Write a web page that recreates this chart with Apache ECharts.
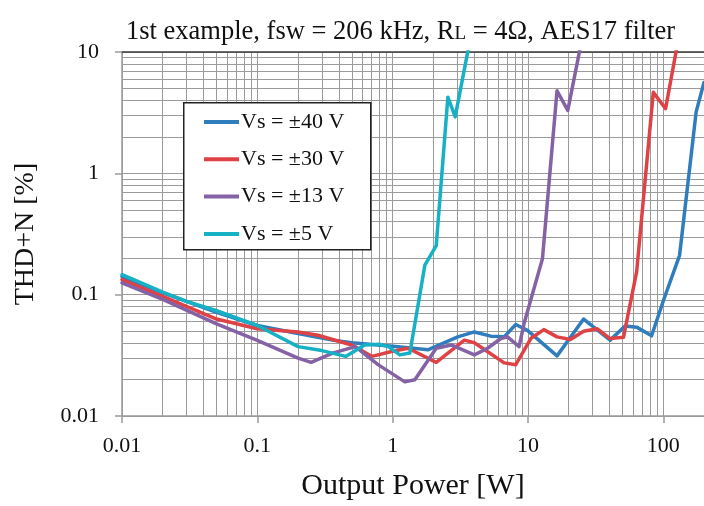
<!DOCTYPE html>
<html>
<head>
<meta charset="utf-8">
<script src="https://cdn.jsdelivr.net/npm/echarts@6/dist/echarts.min.js"></script>
<style>html,body{margin:0;padding:0;background:#fff;}#c{width:704px;height:506px;}</style>
</head>
<body>
<div id="c"></div>
<script>
// Data (Output Power [W], THD+N [%])
const seriesNames = ['Vs = \u00b140 V', 'Vs = \u00b130 V', 'Vs = \u00b113 V', 'Vs = \u00b15 V'];
const blue40 = [[0.01,0.141],[0.02,0.1035],[0.03,0.088],[0.05,0.0714],[0.1,0.0557],[0.2,0.0478],[0.36,0.0422],[0.5,0.0402],[0.78,0.0385],[1.1,0.0373],[1.82,0.0351],[3.03,0.0449],[4.02,0.0493],[5.32,0.0455],[6.67,0.0449],[8.13,0.0568],[9.91,0.0508],[16.4,0.0313],[25.8,0.063],[40.5,0.0422],[52.2,0.0551],[63.6,0.054],[82,0.0458],[100,0.0887],[132,0.211],[175,3.21],[200,5.6]];
const red30 = [[0.01,0.133],[0.02,0.097],[0.05,0.063],[0.1,0.0524],[0.2,0.0493],[0.28,0.0463],[0.5,0.0385],[0.7,0.031],[0.78,0.0319],[0.98,0.034],[1.3,0.0362],[2.1,0.0277],[3.39,0.0422],[4.02,0.0402],[6.67,0.0274],[8.13,0.0265],[10.5,0.0435],[13.1,0.0515],[16.4,0.0449],[20.6,0.0427],[25.8,0.0499],[32.4,0.0524],[40.5,0.0435],[50.8,0.0445],[63.6,0.155],[84.4,4.65],[104,3.41],[128,12]];
const purple13 = [[0.01,0.125],[0.02,0.0915],[0.05,0.0575],[0.1,0.042],[0.2,0.030],[0.25,0.0277],[0.36,0.033],[0.53,0.0373],[0.78,0.0265],[1.23,0.0191],[1.46,0.0199],[2.1,0.0362],[2.71,0.0385],[4.02,0.0319],[5.03,0.0362],[6.31,0.0435],[7.06,0.0449],[8.6,0.0373],[9.35,0.0575],[12.8,0.198],[16.4,4.79],[19.7,3.30],[24.4,11]];
const cyan5 = [[0.01,0.146],[0.02,0.105],[0.03,0.088],[0.05,0.0737],[0.1,0.0557],[0.2,0.0373],[0.3,0.0346],[0.45,0.031],[0.62,0.0385],[0.8,0.039],[0.93,0.0373],[1.13,0.0319],[1.34,0.033],[1.73,0.175],[2.1,0.254],[2.56,4.24],[2.9,2.92],[3.21,5.26],[3.7,12]];
const colors = ['#2f7dbd', '#de4244', '#8462a5', '#17b1c6'];
const xDecades = [0.01, 0.1, 1, 10, 100];
const yDecades = [0.01, 0.1, 1];
const xMax = 200;

const xMinor = [];
xDecades.forEach(d => { for (let k = 2; k <= 9; k++) { const v = +(k * d).toPrecision(3); if (v <= xMax) xMinor.push(v); } });
const yMinor = [];
yDecades.forEach(d => { for (let k = 2; k <= 9; k++) yMinor.push(+(k * d).toPrecision(3)); });

const FONT = 'Liberation Serif';
const gridColor = '#9b9b9b';
const chart = echarts.init(document.getElementById('c'), null, {renderer: 'canvas'});
const dataSets = [blue40, red30, purple13, cyan5];
const series = dataSets.map((d, i) => ({
  name: seriesNames[i], type: 'line', data: d, showSymbol: false, symbol: 'none',
  z: 5, lineStyle: {width: 3.5, color: colors[i], join: 'round', cap: 'round'},
  itemStyle: {color: colors[i]}, animation: false
}));
series.unshift({
  type: 'line', data: [], z: 1, silent: true, animation: false,
  markLine: {
    silent: true, animation: false, symbol: ['none', 'none'], label: {show: false},
    lineStyle: {type: 'solid', color: gridColor, width: 1},
    data: xMinor.map(v => ({xAxis: v})).concat(yMinor.map(v => ({yAxis: v})))
  }
});
series.push({
  type: 'line', data: [], z: 6, silent: true, animation: false,
  markLine: {
    silent: true, animation: false, symbol: ['none', 'none'], label: {show: false},
    lineStyle: {type: 'solid', color: '#3a3a3a', width: 1.5},
    data: [{yAxis: 10}]
  }
});

chart.setOption({
  animation: false,
  backgroundColor: '#fff',
  title: {
    text: '1st example, fsw = 206 kHz, R{l|L} = 4\u03a9, AES17 filter',
    left: 121, top: 14,
    textStyle: {fontFamily: FONT, fontSize: 26.5, fontWeight: 'normal', color: '#111',
      rich: {l: {fontFamily: FONT, fontSize: 19, color: '#111', verticalAlign: 'bottom', padding: [0, 0, 2, 0]}}}
  },
  graphic: [{type: 'rect', left: 183, top: 102, z: 10,
    shape: {width: 187, height: 147}, style: {fill: '#fff', stroke: '#222', lineWidth: 1.5}}],
  legend: {
    data: seriesNames, orient: 'vertical', left: 199, top: 106, z: 20,
    icon: 'rect', itemWidth: 35, itemHeight: 4, itemGap: 15.3,
    textStyle: {fontFamily: FONT, fontSize: 22, color: '#111', lineHeight: 22, padding: [0, 0, 0, -3]},
    selectedMode: false
  },
  grid: {left: 122, right: -3.7, top: 52, bottom: 82},
  xAxis: {
    type: 'log', logBase: 10, min: 0.01, max: xMax,
    name: 'Output Power [W]', nameLocation: 'middle', nameGap: 55,
    nameTextStyle: {fontFamily: FONT, fontSize: 30, color: '#111'},
    axisLine: {show: true, lineStyle: {color: gridColor, width: 1.5}},
    axisTick: {show: true, length: 7, lineStyle: {color: gridColor, width: 1.5}},
    axisLabel: {fontFamily: FONT, fontSize: 22, color: '#111', margin: 19, showMaxLabel: false},
    splitLine: {show: true, lineStyle: {color: gridColor, width: 1}},
    minorTick: {show: false}, minorSplitLine: {show: false}
  },
  yAxis: {
    type: 'log', logBase: 10, min: 0.01, max: 10,
    name: 'THD+N [%]', nameLocation: 'middle', nameGap: 82, nameRotate: 90,
    nameTextStyle: {fontFamily: FONT, fontSize: 28, color: '#111'},
    axisLine: {show: true, lineStyle: {color: gridColor, width: 1.5}},
    axisTick: {show: true, length: 7, lineStyle: {color: gridColor, width: 1.5}},
    axisLabel: {fontFamily: FONT, fontSize: 22, color: '#111', margin: 23},
    splitLine: {show: true, lineStyle: {color: gridColor, width: 1}}
  },
  series: series
});
</script>
</body>
</html>
